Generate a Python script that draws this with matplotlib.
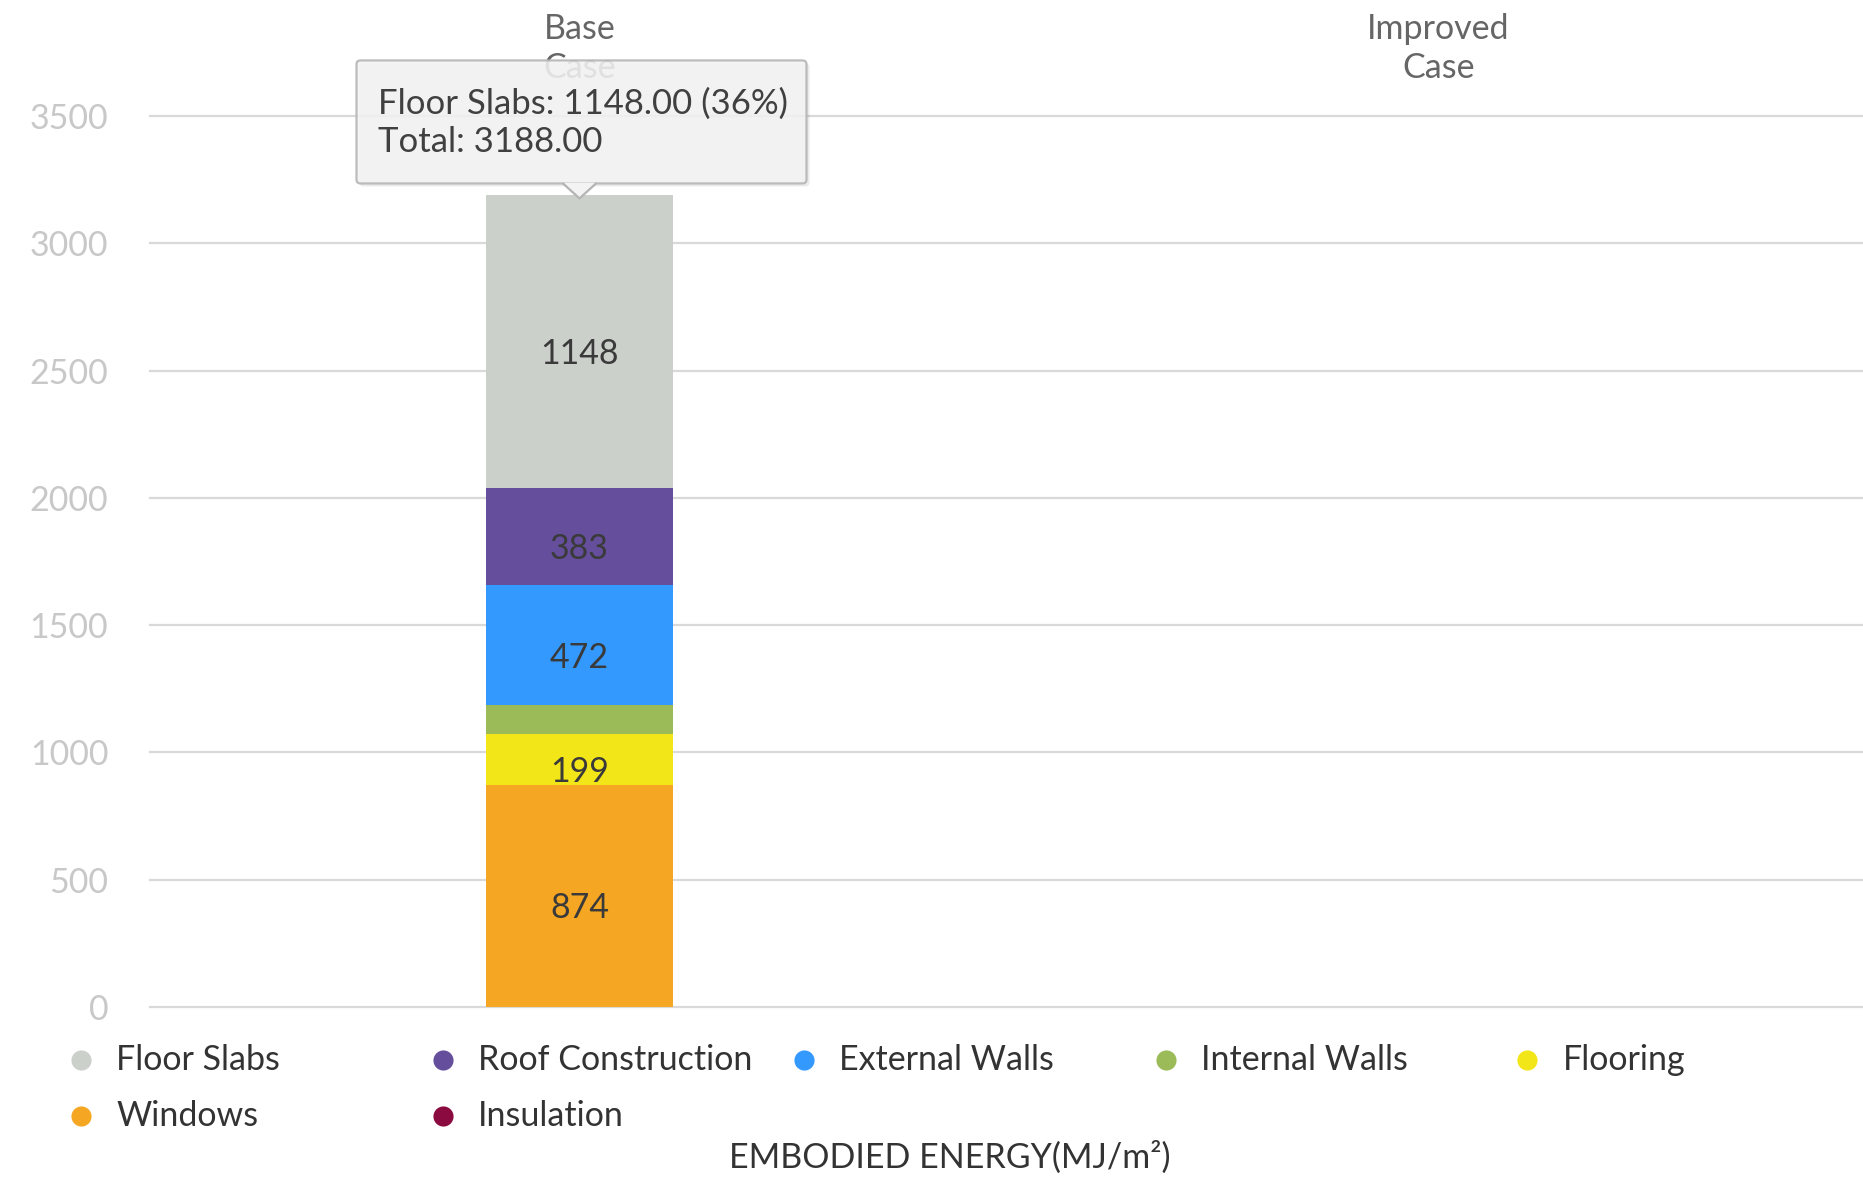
import matplotlib
matplotlib.use("Agg")
import matplotlib.pyplot as plt
import matplotlib.transforms as mtransforms
from matplotlib.patches import FancyBboxPatch, Polygon
from matplotlib.lines import Line2D
import numpy as np

# ---------------- data ----------------
categories = ["Base\nCase", "Improved\nCase"]
series_names = ["Floor Slabs", "Roof Construction", "External Walls",
                "Internal Walls", "Flooring", "Windows", "Insulation"]
base_case = [1148, 383, 472, 112, 199, 874, 0]
improved_case = [0, 0, 0, 0, 0, 0, 0]
colors = ["#cbd0ca", "#654f9c", "#3399ff", "#9bbb59", "#f3e618", "#f5a623", "#8b0a3f"]
yticks = [0, 500, 1000, 1500, 2000, 2500, 3000, 3500]
xlabel = "EMBODIED ENERGY(MJ/m²)"
tooltip_series = "Floor Slabs"
tooltip_category = 0

plt.rcParams['font.family'] = ['Lato', 'DejaVu Sans']

W, H = 1863, 1178
fig = plt.figure(figsize=(W / 100, H / 100), dpi=100)


def fx(x):
    return x / W


def fy(y):
    return 1 - y / H


ax = fig.add_axes([fx(150), fy(1007), fx(1868) - fx(150), fy(116) - fy(1007)])

FS = 24.5

values = np.array([base_case, improved_case], dtype=float)
x = np.arange(len(categories))
bottom = np.zeros(len(categories))
for j in reversed(range(len(series_names))):
    v = values[:, j]
    ax.bar(x, v, width=0.217, bottom=bottom, color=colors[j], zorder=2)
    for i in range(len(x)):
        if v[i] >= 150:
            ax.annotate(f"{v[i]:.0f}", (x[i], bottom[i] + v[i] / 2),
                        xytext=(0, -9), textcoords='offset points',
                        ha='center', va='center', fontsize=FS,
                        color='#3a3a3a', zorder=3)
    bottom += v

ax.set_xlim(-0.5, len(categories) - 0.5)
ax.set_ylim(0, 3500)
ax.set_yticks(yticks)
ax.set_xticks([])
for s in ax.spines.values():
    s.set_visible(False)
ax.yaxis.grid(True, color='#d9d9d9', linewidth=1.6)
ax.set_axisbelow(True)
for gl in ax.get_ygridlines():
    gl.set_clip_on(False)
ax.tick_params(axis='y', length=0, pad=30, labelsize=FS, labelcolor='#c8c8c8')

# category labels at top
blend = mtransforms.blended_transform_factory(ax.transData, fig.transFigure)
for i, c in enumerate(categories):
    ax.text(x[i], fy(48.5), c, transform=blend, ha='center', va='center',
            fontsize=FS, color='#666666', linespacing=1.3, clip_on=False)

# legend (manual grid)
ncol = 5
for k, name in enumerate(series_names):
    col, row = k % ncol, k // ncol
    mx = 81 + col * 361.6
    my = 1060 + row * 55.5
    fig.add_artist(Line2D([fx(mx)], [fy(my)], marker='o', markersize=14.5,
                          markerfacecolor=colors[k], markeredgecolor='none',
                          linestyle='none', transform=fig.transFigure))
    fig.text(fx(mx + 35), fy(my), name, ha='left', va='center',
             fontsize=FS, color='#333333')

fig.text(fx(950), fy(1157), xlabel, ha='center', va='center',
         fontsize=FS, color='#333333')

# tooltip
si = series_names.index(tooltip_series)
total = values[tooltip_category].sum()
val = values[tooltip_category, si]
tip = f"{tooltip_series}: {val:.2f} ({val / total * 100:.0f}%)\nTotal: {total:.2f}"

anchor = mtransforms.ScaledTranslation(x[tooltip_category], total, ax.transData)
tr = mtransforms.IdentityTransform() + anchor
box_l, box_r, box_b, box_t = -223, 227, 12, 135
shadow = FancyBboxPatch((box_l + 3, box_b - 3), box_r - box_l, box_t - box_b,
                        boxstyle='round,pad=0,rounding_size=4',
                        transform=tr, fc='#000000', ec='none', alpha=0.08,
                        zorder=9)
fig.add_artist(shadow)
box = FancyBboxPatch((box_l, box_b), box_r - box_l, box_t - box_b,
                     boxstyle='round,pad=0,rounding_size=4',
                     transform=tr, fc='#f3f3f3', ec='#b4b4b4', lw=1.6,
                     alpha=0.88, zorder=10)
fig.add_artist(box)
ptr = Polygon([[-16, box_b + 0.8], [0, -3], [16, box_b + 0.8]], closed=True,
              transform=tr, fc='#f3f3f3', ec='none', zorder=11)
fig.add_artist(ptr)
ptr_edge = Line2D([-16, 0, 16], [box_b - 0.5, -3, box_b - 0.5], transform=tr,
                  color='#b4b4b4', lw=1.6, zorder=12)
fig.add_artist(ptr_edge)
t = fig.text(box_l + 21, (box_b + box_t) / 2 - 1, tip, transform=tr,
             ha='left', va='center', fontsize=25, color='#404040',
             linespacing=1.22, zorder=13)

fig.savefig("out.png", dpi=100)
